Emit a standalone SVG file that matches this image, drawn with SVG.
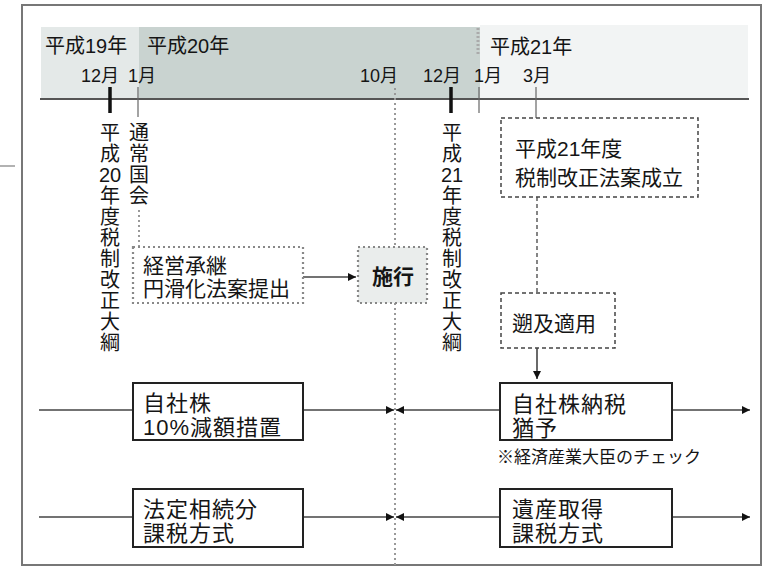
<svg xmlns="http://www.w3.org/2000/svg" width="771" height="569" viewBox="0 0 771 569">
<defs>
<marker id="arr" viewBox="0 0 10 10" refX="10" refY="5" markerWidth="10" markerHeight="8" markerUnits="userSpaceOnUse" orient="auto"><path d="M0,0 L10,5 L0,10 z" fill="#111"/></marker>
</defs>
<style>
text{font-family:"Liberation Sans","Noto Sans CJK JP",sans-serif;fill:#151515}
.yr{font-size:20px}
.mo{font-size:18px}
.vt{font-size:20px;text-anchor:middle}
.bx{font-size:22px;letter-spacing:1px}
.bt{font-size:21px}
.solid{fill:#fff;stroke:#222;stroke-width:2}
.dot{fill:#fff;stroke:#888;stroke-width:2.2;stroke-dasharray:2 3}
.dash{fill:#fff;stroke:#444;stroke-width:1.5;stroke-dasharray:4 3}
.ln{stroke:#444;stroke-width:1.6;fill:none}
.tick{stroke:#111;stroke-width:3.5}
.thin{stroke:#666;stroke-width:1.2}
</style>
<rect x="0" y="0" width="771" height="569" fill="#fff"/>
<line x1="0" y1="166" x2="15" y2="166" stroke="#999" stroke-width="1.5"/>
<rect x="22" y="5" width="739" height="560" fill="#fff" stroke="#777" stroke-width="2"/>

<g id="timeline">
<rect x="41" y="27" width="98" height="72" fill="#e4e9e8"/>
<rect x="139" y="27" width="341" height="72" fill="#c9d3d0"/>
<rect x="480" y="25" width="268" height="74" fill="#f2f4f4"/>
<line x1="478" y1="28" x2="478" y2="56" stroke="#aaa" stroke-width="3" stroke-dasharray="2 2"/>
<line x1="40" y1="99" x2="749" y2="99" stroke="#555" stroke-width="2"/>
<text class="yr" x="45" y="53">平成19年</text>
<text class="yr" x="147" y="53">平成20年</text>
<text class="yr" x="490" y="54">平成21年</text>
<text class="mo" x="119" y="82" text-anchor="end">12月</text>
<text class="mo" x="128" y="82">1月</text>
<text class="mo" x="398" y="82" text-anchor="end">10月</text>
<text class="mo" x="423" y="82">12月</text>
<text class="mo" x="474" y="82">1月</text>
<text class="mo" x="523" y="82">3月</text>
<line class="tick" x1="110" y1="87" x2="110" y2="113"/>
<line class="thin" x1="138" y1="87" x2="138" y2="117"/>
<line class="tick" x1="451" y1="87" x2="451" y2="113"/>
<line class="thin" x1="479" y1="87" x2="479" y2="113"/>
<line class="thin" x1="536" y1="87" x2="536" y2="118"/>
</g>

<g id="taikou20">
<text class="vt"><tspan x="110" y="140">平</tspan><tspan x="110" y="161">成</tspan><tspan x="110" y="182">20</tspan><tspan x="110" y="203">年</tspan><tspan x="110" y="224">度</tspan><tspan x="110" y="245">税</tspan><tspan x="110" y="266">制</tspan><tspan x="110" y="287">改</tspan><tspan x="110" y="308">正</tspan><tspan x="110" y="329">大</tspan><tspan x="110" y="350">綱</tspan></text>
</g>
<g id="kokkai">
<text class="vt"><tspan x="139" y="140">通</tspan><tspan x="139" y="161">常</tspan><tspan x="139" y="182">国</tspan><tspan x="139" y="203">会</tspan></text>
</g>
<g id="taikou21">
<text class="vt"><tspan x="452" y="140">平</tspan><tspan x="452" y="161">成</tspan><tspan x="452" y="182">21</tspan><tspan x="452" y="203">年</tspan><tspan x="452" y="224">度</tspan><tspan x="452" y="245">税</tspan><tspan x="452" y="266">制</tspan><tspan x="452" y="287">改</tspan><tspan x="452" y="308">正</tspan><tspan x="452" y="329">大</tspan><tspan x="452" y="350">綱</tspan></text>
</g>

<g id="connectors">
<line x1="395" y1="88" x2="395" y2="565" stroke="#999" stroke-width="2" stroke-dasharray="2 3"/>
<line x1="139" y1="210" x2="139" y2="247" stroke="#999" stroke-width="2" stroke-dasharray="2 3"/>
<line class="ln" x1="303" y1="277" x2="356" y2="277" marker-end="url(#arr)"/>
<line x1="537" y1="197" x2="537" y2="293" stroke="#444" stroke-width="1.3" stroke-dasharray="4 3"/>
<line class="ln" x1="537" y1="348" x2="537" y2="379" marker-end="url(#arr)"/>
<line class="ln" x1="39" y1="410" x2="132" y2="410"/>
<line class="ln" x1="303" y1="410" x2="394" y2="410" marker-end="url(#arr)"/>
<line class="ln" x1="500" y1="410" x2="396" y2="410" marker-end="url(#arr)"/>
<line class="ln" x1="672" y1="410" x2="750" y2="410" marker-end="url(#arr)"/>
<line class="ln" x1="39" y1="517" x2="132" y2="517"/>
<line class="ln" x1="303" y1="517" x2="394" y2="517" marker-end="url(#arr)"/>
<line class="ln" x1="500" y1="517" x2="396" y2="517" marker-end="url(#arr)"/>
<line class="ln" x1="672" y1="517" x2="750" y2="517" marker-end="url(#arr)"/>
</g>

<g id="teishutsu">
<rect class="dot" x="133" y="247" width="170" height="56"/>
<text class="bt" x="143" y="273">経営承継</text>
<text class="bt" x="143" y="296">円滑化法案提出</text>
</g>
<g id="shikou">
<rect class="dot" x="358" y="247" width="69" height="56" style="fill:#eaedec"/>
<text x="393" y="284" text-anchor="middle" style="font-size:21px;font-weight:bold">施行</text>
</g>
<g id="seiritsu">
<rect class="dash" x="501" y="118" width="197" height="79"/>
<text class="bt" x="515" y="156">平成21年度</text>
<text class="bt" x="515" y="185">税制改正法案成立</text>
</g>
<g id="sokyuu">
<rect class="dash" x="501" y="293" width="114" height="55"/>
<text class="bt" x="512" y="331">遡及適用</text>
</g>
<g id="genkaku">
<rect class="solid" x="133" y="383" width="170" height="57"/>
<text class="bx" x="143" y="411">自社株</text>
<text class="bx" x="143" y="435">10%減額措置</text>
</g>
<g id="nouzei">
<rect class="solid" x="500" y="383" width="172" height="57"/>
<text class="bx" x="512" y="412">自社株納税</text>
<text class="bx" x="512" y="436">猶予</text>
<text x="497" y="463" style="font-size:17px">※経済産業大臣のチェック</text>
</g>
<g id="houtei">
<rect class="solid" x="133" y="489" width="170" height="58"/>
<text class="bx" x="143" y="517">法定相続分</text>
<text class="bx" x="143" y="541">課税方式</text>
</g>
<g id="isan">
<rect class="solid" x="500" y="489" width="172" height="58"/>
<text class="bx" x="512" y="517">遺産取得</text>
<text class="bx" x="512" y="541">課税方式</text>
</g>
</svg>
